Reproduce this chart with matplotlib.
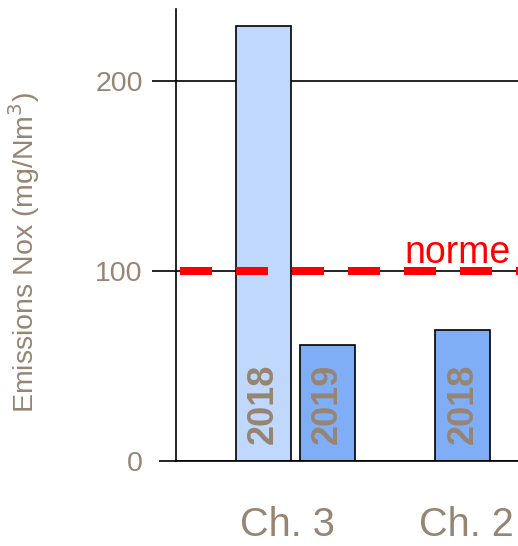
import matplotlib.pyplot as plt

# Données : émissions NOx par chaudière et par année
categories = ["Ch. 3", "Ch. 2"]
bar_years = ["2018", "2019", "2018"]
bar_values = [229, 61, 69]
norme = 100

plt.rcParams['font.family'] = ['Liberation Sans', 'DejaVu Sans']
txt_color = '#978573'
bar_colors = ['#BFD8FB', '#80AEF6', '#80AEF6']

# positions des barres autour des catégories (Ch. 3 -> 0, Ch. 2 -> 1)
bar_pos = [-0.13, 0.225, 0.98]
width = 0.306

fig = plt.figure(figsize=(5.18, 5.46), dpi=100)
ax = fig.add_axes([176 / 518, 85 / 546, 342 / 518, 452 / 546])

bars = ax.bar(bar_pos, bar_values, width, color=bar_colors,
              edgecolor='black', linewidth=1.2, zorder=2)

# étiquettes d'année dans les barres
for bar, year in zip(bars, bar_years):
    ax.text(bar.get_x() + bar.get_width() / 2, 9, year, rotation=90,
            ha='center', va='bottom', fontsize=26, fontweight='bold',
            color=txt_color, zorder=3)

# ligne de la norme
ax.plot([-0.596, 1.3], [norme, norme], color='red', linewidth=5.76,
        dashes=(4, 3), zorder=4)
ax.text(0.652, 104, 'norme', color='red', fontsize=27, va='baseline',
        ha='left', zorder=5)

ax.set_xlim(-0.618, 1.287)
ax.set_ylim(0, 238)
ax.set_yticks([0, 100, 200])
ax.set_xticks([0, 1])
ax.set_xticklabels(categories)

ax.grid(axis='y', color='black', linewidth=1.2)
ax.set_axisbelow(True)
ax.spines['top'].set_visible(False)
ax.spines['right'].set_visible(False)
ax.spines['left'].set_linewidth(1.2)
ax.spines['bottom'].set_linewidth(1.2)

ax.tick_params(axis='y', length=17, width=1.2, pad=7, labelsize=20.5,
               labelcolor=txt_color)
ax.tick_params(axis='x', length=0, pad=32.5, labelsize=28.5,
               labelcolor=txt_color)
ax.yaxis.get_major_ticks()[0].tick1line.set_markersize(12)

ax.set_ylabel('Emissions Nox (mg/Nm$^3$)', fontsize=20.5, color=txt_color)
ax.yaxis.set_label_coords(-0.392, 0.462)

fig.savefig('out.png', dpi=100)
